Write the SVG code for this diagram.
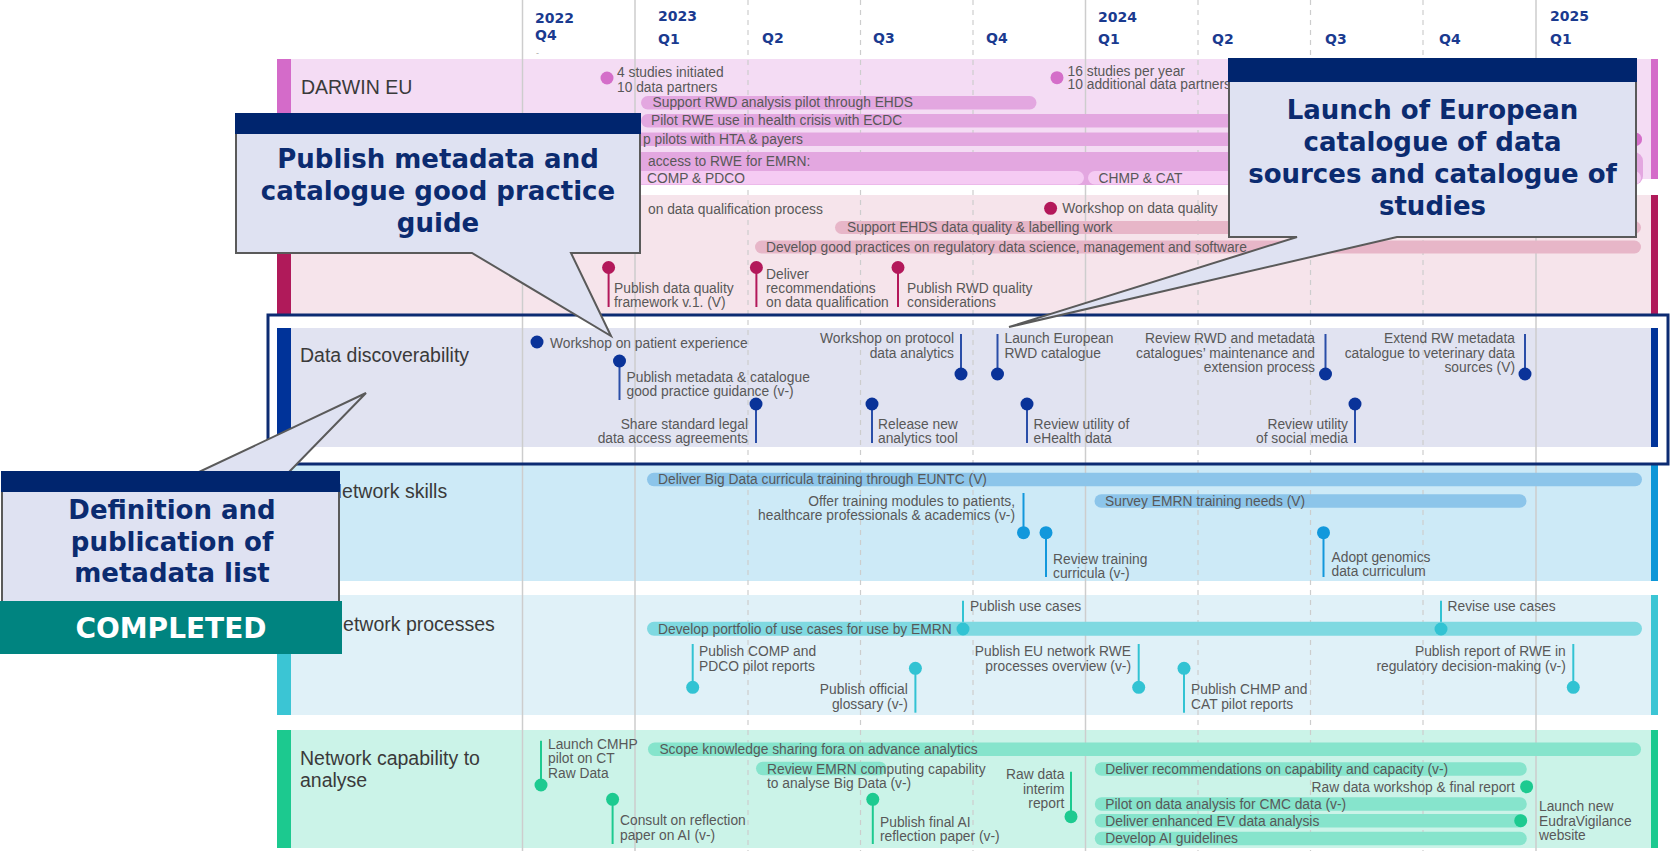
<svg xmlns="http://www.w3.org/2000/svg" width="1672" height="851" viewBox="0 0 1672 851">
<defs>
<style>
.t{font-family:"Liberation Sans",Arial,sans-serif;font-size:13.8px;fill:#585858}
.e{text-anchor:end}
.lb{font-family:"Liberation Sans",Arial,sans-serif;font-size:19.5px;fill:#3a3a3a}
.hd{font-family:"DejaVu Sans",Verdana,sans-serif;font-weight:bold;font-size:14px;fill:#1a3a8f}
.gs{stroke:#cdcdcd;stroke-width:1.5}
.gd{stroke:#cdcdcd;stroke-width:1.2;stroke-dasharray:5 5}
.co{font-family:"DejaVu Sans",Verdana,sans-serif;font-weight:bold;font-size:26px;fill:#0b2b70;text-anchor:middle}
.cb{fill:#dfe2f2;stroke:#5a5a5a;stroke-width:2}
.ch{fill:#00256e}
.dm{fill:#d46ec9}.bm{fill:#e3a7e0}.bm2{fill:#f5cbf3}
.dq{fill:#b3185a}.bq{fill:#e7b6c8}
.dd{fill:#0a3399}
.ds{fill:#1298dc}.bs{fill:#8cc5ea}
.dp{fill:#32c3d3}.bp{fill:#7fd9e1}
.dc{fill:#1dca90}.bc{fill:#86e4cc}
.sq{stroke:#b3185a;stroke-width:2}
.sd{stroke:#2a4ea8;stroke-width:2}
.ss{stroke:#1298dc;stroke-width:2}
.sp{stroke:#32c3d3;stroke-width:2}
.sc{stroke:#1dca90;stroke-width:2}
</style>
</defs>
<rect width="1672" height="851" fill="#ffffff"/>

<g id="bands">
<rect x="277" y="59" width="1381" height="120" fill="#f4dcf4"/>
<rect x="277" y="59" width="14" height="120" fill="#d46bc9"/>
<rect x="1651" y="59" width="7" height="120" fill="#d46bc9"/>
<rect x="277" y="195" width="1381" height="119" fill="#f6e4eb"/>
<rect x="277" y="195" width="14" height="119" fill="#b01a5a"/>
<rect x="1651" y="195" width="7" height="119" fill="#b01a5a"/>
<rect x="277" y="328" width="1381" height="119" fill="#e1e3f1"/>
<rect x="277" y="328" width="14" height="119" fill="#003399"/>
<rect x="1651" y="328" width="7" height="119" fill="#003399"/>
<rect x="277" y="465" width="1381" height="116" fill="#cdeaf7"/>
<rect x="277" y="465" width="14" height="116" fill="#0d96d8"/>
<rect x="1651" y="465" width="7" height="116" fill="#0d96d8"/>
<rect x="277" y="595" width="1381" height="120" fill="#e0f1f8"/>
<rect x="277" y="595" width="14" height="120" fill="#3bc5d4"/>
<rect x="1651" y="595" width="7" height="120" fill="#3bc5d4"/>
<rect x="277" y="730" width="1381" height="118" fill="#cbf3e8"/>
<rect x="277" y="730" width="14" height="118" fill="#1cc98f"/>
<rect x="1651" y="730" width="7" height="118" fill="#1cc98f"/>
</g>

<g id="grid">
<line class="gs" x1="522.5" y1="0" x2="522.5" y2="851"/>
<line class="gs" x1="635" y1="0" x2="635" y2="851"/>
<line class="gd" x1="748" y1="0" x2="748" y2="851"/>
<line class="gd" x1="860.5" y1="0" x2="860.5" y2="851"/>
<line class="gd" x1="973" y1="0" x2="973" y2="851"/>
<line class="gs" x1="1085.5" y1="0" x2="1085.5" y2="851"/>
<line class="gd" x1="1198" y1="0" x2="1198" y2="851"/>
<line class="gd" x1="1310.5" y1="0" x2="1310.5" y2="851"/>
<line class="gd" x1="1423" y1="0" x2="1423" y2="851"/>
<line class="gs" x1="1536" y1="0" x2="1536" y2="851"/>
</g>

<g id="header">
<text class="hd" x="535" y="23">2022</text>
<text class="hd" x="535" y="40">Q4</text>
<text x="536" y="56" font-family="Liberation Sans, sans-serif" font-size="9" fill="#aaaaaa">-</text>
<text class="hd" x="658" y="21">2023</text>
<text class="hd" x="658" y="44">Q1</text>
<text class="hd" x="762" y="43">Q2</text>
<text class="hd" x="873" y="43">Q3</text>
<text class="hd" x="986" y="43">Q4</text>
<text class="hd" x="1098" y="22">2024</text>
<text class="hd" x="1098" y="44">Q1</text>
<text class="hd" x="1212" y="44">Q2</text>
<text class="hd" x="1325" y="44">Q3</text>
<text class="hd" x="1439" y="44">Q4</text>
<text class="hd" x="1550" y="21">2025</text>
<text class="hd" x="1550" y="44">Q1</text>
</g>

<g id="connectors">
<line class="sq" x1="608.6" y1="267.5" x2="608.6" y2="307"/>
<line class="sq" x1="756.4" y1="267.5" x2="756.4" y2="307"/>
<line class="sq" x1="898" y1="267.5" x2="898" y2="307"/>
<line class="sd" x1="619.5" y1="361" x2="619.5" y2="400"/>
<line class="sd" x1="756" y1="404" x2="756" y2="443"/>
<line class="sd" x1="872" y1="404" x2="872" y2="443"/>
<line class="sd" x1="961" y1="334" x2="961" y2="374"/>
<line class="sd" x1="997.5" y1="334" x2="997.5" y2="374"/>
<line class="sd" x1="1027" y1="404" x2="1027" y2="443"/>
<line class="sd" x1="1325.5" y1="334" x2="1325.5" y2="374"/>
<line class="sd" x1="1355" y1="404" x2="1355" y2="443"/>
<line class="sd" x1="1525" y1="334" x2="1525" y2="374"/>
<line class="ss" x1="1023.5" y1="493" x2="1023.5" y2="532.7"/>
<line class="ss" x1="1046" y1="532.7" x2="1046" y2="577"/>
<line class="ss" x1="1323.5" y1="532.7" x2="1323.5" y2="577"/>
<line class="sp" x1="963" y1="600.7" x2="963" y2="629"/>
<line class="sp" x1="1441" y1="600.7" x2="1441" y2="629"/>
<line class="sp" x1="692.7" y1="644" x2="692.7" y2="687.3"/>
<line class="sp" x1="915.4" y1="668.3" x2="915.4" y2="712.7"/>
<line class="sp" x1="1138.7" y1="644" x2="1138.7" y2="687.3"/>
<line class="sp" x1="1184" y1="668.3" x2="1184" y2="712.7"/>
<line class="sp" x1="1573.3" y1="644" x2="1573.3" y2="687.3"/>
<line class="sc" x1="541" y1="740.7" x2="541" y2="785"/>
<line class="sc" x1="612.6" y1="799.3" x2="612.6" y2="844"/>
<line class="sc" x1="872.8" y1="799.3" x2="872.8" y2="844"/>
<line class="sc" x1="1071" y1="771.7" x2="1071" y2="816.7"/>
</g>

<g id="row-darwin">
<text class="lb" x="301" y="94">DARWIN EU</text>
<g id="m-darwin-1"><circle class="dm" cx="607" cy="78" r="6.5"/><text class="t" x="617" y="77.3">4 studies initiated</text><text class="t" x="617" y="91.8">10 data partners</text></g>
<g id="m-darwin-2"><circle class="dm" cx="1057" cy="77.7" r="6.5"/><text class="t" x="1067.6" y="76">16 studies per year</text><text class="t" x="1067.6" y="89">10 additional data partners</text></g>
<g id="b-darwin-1"><rect class="bm" x="641" y="96" width="395.5" height="13.5" rx="6.75"/><text class="t" x="652.5" y="107.3">Support RWD analysis pilot through EHDS</text></g>
<g id="b-darwin-2"><rect class="bm" x="641" y="114" width="960" height="13.5" rx="6.75"/><text class="t" x="651" y="125.3">Pilot RWE use in health crisis with ECDC</text></g>
<g id="b-darwin-3"><rect class="bm" x="560" y="132.5" width="1082" height="13.5" rx="6.75"/><circle class="dm" cx="1635.5" cy="139.3" r="6.5"/><text class="t" x="643" y="144.3">p pilots with HTA &amp; payers</text></g>
<g id="b-darwin-4"><rect class="bm" x="560" y="152" width="1083" height="33" rx="9"/><text class="t" x="648" y="165.8">access to RWE for EMRN:</text>
<rect class="bm2" x="560" y="171" width="524" height="13.5" rx="6.75"/><text class="t" x="647" y="182.8">COMP &amp; PDCO</text>
<rect class="bm2" x="1088" y="171" width="553" height="13.5" rx="6.75"/><text class="t" x="1098.5" y="182.8">CHMP &amp; CAT</text></g>
</g>

<g id="row-quality">
<g id="m-q-0"><text class="t" x="648" y="213.8">on data qualification process</text></g>
<g id="m-q-1"><circle class="dq" cx="1050.6" cy="208.3" r="6.5"/><text class="t" x="1062.3" y="213">Workshop on data quality</text></g>
<g id="b-q-1"><rect class="bq" x="835" y="221" width="806" height="13" rx="6.5"/><text class="t" x="847" y="232.3">Support EHDS data quality &amp; labelling work</text></g>
<g id="b-q-2"><rect class="bq" x="755" y="240.5" width="886" height="13" rx="6.5"/><text class="t" x="766" y="251.5">Develop good practices on regulatory data science, management and software</text></g>
<g id="m-q-2"><circle class="dq" cx="608.6" cy="267.5" r="6.5"/><text class="t" x="614" y="292.8">Publish data quality</text><text class="t" x="614" y="306.5">framework v.1. (V)</text></g>
<g id="m-q-3"><circle class="dq" cx="756.4" cy="267.5" r="6.5"/><text class="t" x="766" y="278.8">Deliver</text><text class="t" x="766" y="292.5">recommendations</text><text class="t" x="766" y="306.5">on data qualification</text></g>
<g id="m-q-4"><circle class="dq" cx="898" cy="267.5" r="6.5"/><text class="t" x="907" y="292.8">Publish RWD quality</text><text class="t" x="907" y="306.5">considerations</text></g>
</g>

<g id="row-discoverability">
<text class="lb" x="300" y="362">Data discoverability</text>
<g id="m-d-1"><circle class="dd" cx="537" cy="342" r="6.5"/><text class="t" x="550" y="347.5">Workshop on patient experience</text></g>
<g id="m-d-2"><circle class="dd" cx="619.5" cy="361" r="6.5"/><text class="t" x="626.5" y="381.5">Publish metadata &amp; catalogue</text><text class="t" x="626.5" y="396">good practice guidance (v-)</text></g>
<g id="m-d-3"><circle class="dd" cx="756" cy="404" r="6.5"/><text class="t e" x="748" y="429">Share standard legal</text><text class="t e" x="748" y="443">data access agreements</text></g>
<g id="m-d-4"><circle class="dd" cx="872" cy="404" r="6.5"/><text class="t" x="878" y="429">Release new</text><text class="t" x="878" y="443">analytics tool</text></g>
<g id="m-d-5"><circle class="dd" cx="961" cy="374" r="6.5"/><text class="t e" x="954" y="343.3">Workshop on protocol</text><text class="t e" x="954" y="357.7">data analytics</text></g>
<g id="m-d-6"><circle class="dd" cx="997.5" cy="374" r="6.5"/><text class="t" x="1004.5" y="343.3">Launch European</text><text class="t" x="1004.5" y="357.7">RWD catalogue</text></g>
<g id="m-d-7"><circle class="dd" cx="1027" cy="404" r="6.5"/><text class="t" x="1033.5" y="429">Review utility of</text><text class="t" x="1033.5" y="443">eHealth data</text></g>
<g id="m-d-8"><circle class="dd" cx="1325.5" cy="374" r="6.5"/><text class="t e" x="1315" y="343.3">Review RWD and metadata</text><text class="t e" x="1315" y="357.7">catalogues’ maintenance and</text><text class="t e" x="1315" y="372.3">extension process</text></g>
<g id="m-d-9"><circle class="dd" cx="1355" cy="404" r="6.5"/><text class="t e" x="1348" y="429">Review utility</text><text class="t e" x="1348" y="443">of social media</text></g>
<g id="m-d-10"><circle class="dd" cx="1525" cy="374" r="6.5"/><text class="t e" x="1515" y="343.3">Extend RW metadata</text><text class="t e" x="1515" y="357.7">catalogue to veterinary data</text><text class="t e" x="1515" y="372.3">sources (V)</text></g>
</g>
<rect id="highlight" x="268" y="315" width="1400" height="149" fill="none" stroke="#0c2b72" stroke-width="3"/>

<g id="row-skills">
<text class="lb" x="328" y="497.5">Network skills</text>
<g id="b-s-1"><rect class="bs" x="647" y="472.7" width="995" height="13.5" rx="6.75"/><text class="t" x="658" y="484.3">Deliver Big Data curricula training through EUNTC (V)</text></g>
<g id="m-s-1"><circle class="ds" cx="1023.5" cy="532.7" r="6.5"/><text class="t e" x="1015" y="506">Offer training modules to patients,</text><text class="t e" x="1015" y="520">healthcare professionals &amp; academics (v-)</text></g>
<g id="m-s-2"><circle class="ds" cx="1046" cy="532.7" r="6.5"/><text class="t" x="1053" y="563.5">Review training</text><text class="t" x="1053" y="578">curricula (v-)</text></g>
<g id="b-s-2"><rect class="bs" x="1094.5" y="494.3" width="432" height="13.5" rx="6.75"/><text class="t" x="1105" y="506">Survey EMRN training needs (V)</text></g>
<g id="m-s-3"><circle class="ds" cx="1323.5" cy="532.7" r="6.5"/><text class="t" x="1331.5" y="561.5">Adopt genomics</text><text class="t" x="1331.5" y="575.5">data curriculum</text></g>
</g>

<g id="row-processes">
<text class="lb" x="329" y="631">Network processes</text>
<g id="b-p-1"><rect class="bp" x="647" y="621.7" width="995" height="14" rx="7"/><text class="t" x="658" y="633.6">Develop portfolio of use cases for use by EMRN</text></g>
<g id="m-p-1"><circle class="dp" cx="963" cy="629" r="6.5"/><text class="t" x="970" y="611">Publish use cases</text></g>
<g id="m-p-2"><circle class="dp" cx="1441" cy="629" r="6.5"/><text class="t" x="1447.5" y="611">Revise use cases</text></g>
<g id="m-p-3"><circle class="dp" cx="692.7" cy="687.3" r="6.5"/><text class="t" x="699" y="656">Publish COMP and</text><text class="t" x="699" y="671">PDCO pilot reports</text></g>
<g id="m-p-4"><circle class="dp" cx="915.4" cy="668.3" r="6.5"/><text class="t e" x="907.8" y="694.3">Publish official</text><text class="t e" x="907.8" y="709">glossary (v-)</text></g>
<g id="m-p-5"><circle class="dp" cx="1138.7" cy="687.3" r="6.5"/><text class="t e" x="1131" y="656">Publish EU network RWE</text><text class="t e" x="1131" y="671">processes overview (v-)</text></g>
<g id="m-p-6"><circle class="dp" cx="1184" cy="668.3" r="6.5"/><text class="t" x="1191" y="694.3">Publish CHMP and</text><text class="t" x="1191" y="709">CAT pilot reports</text></g>
<g id="m-p-7"><circle class="dp" cx="1573.3" cy="687.3" r="6.5"/><text class="t e" x="1565.8" y="656">Publish report of RWE in</text><text class="t e" x="1565.8" y="671">regulatory decision-making (v-)</text></g>
</g>

<g id="row-capability">
<text class="lb" x="300" y="765">Network capability to</text>
<text class="lb" x="300" y="787">analyse</text>
<g id="m-c-1"><circle class="dc" cx="541" cy="785" r="6.5"/><text class="t" x="548" y="749">Launch CMHP</text><text class="t" x="548" y="763.3">pilot on CT</text><text class="t" x="548" y="777.7">Raw Data</text></g>
<g id="m-c-2"><circle class="dc" cx="612.6" cy="799.3" r="6.5"/><text class="t" x="620" y="825">Consult on reflection</text><text class="t" x="620" y="840">paper on AI (v-)</text></g>
<g id="b-c-1"><rect class="bc" x="648" y="742.5" width="993" height="13.5" rx="6.75"/><text class="t" x="659.4" y="753.5">Scope knowledge sharing fora on advance analytics</text></g>
<g id="b-c-2"><rect class="bc" x="756" y="761.7" width="130.6" height="13.5" rx="6.75"/><text class="t" x="767" y="774.3">Review EMRN computing capability</text><text class="t" x="767" y="788.3">to analyse Big Data (v-)</text></g>
<g id="m-c-3"><circle class="dc" cx="872.8" cy="799.3" r="6.5"/><text class="t" x="880" y="826.7">Publish final AI</text><text class="t" x="880" y="841">reflection paper (v-)</text></g>
<g id="m-c-4"><circle class="dc" cx="1071" cy="816.7" r="6.5"/><text class="t e" x="1064.4" y="779">Raw data</text><text class="t e" x="1064.4" y="794">interim</text><text class="t e" x="1064.4" y="808.3">report</text></g>
<g id="b-c-3"><rect class="bc" x="1094.8" y="762.3" width="432" height="13.5" rx="6.75"/><text class="t" x="1105.3" y="774">Deliver recommendations on capability and capacity (v-)</text></g>
<g id="m-c-5"><circle class="dc" cx="1526.6" cy="786.7" r="6.5"/><text class="t e" x="1514.8" y="791.7">Raw data workshop &amp; final report</text></g>
<g id="b-c-4"><rect class="bc" x="1094.8" y="797.3" width="432" height="13.5" rx="6.75"/><text class="t" x="1105.3" y="808.7">Pilot on data analysis for CMC data (v-)</text></g>
<g id="b-c-5"><rect class="bc" x="1094.8" y="814" width="432" height="13.5" rx="6.75"/><circle class="dc" cx="1520.7" cy="820.7" r="6.5"/><text class="t" x="1105.3" y="825.5">Deliver enhanced EV data analysis</text></g>
<g id="b-c-6"><rect class="bc" x="1094.8" y="831.7" width="432" height="13.5" rx="6.75"/><text class="t" x="1105.3" y="843">Develop AI guidelines</text></g>
<g id="m-c-6"><text class="t" x="1539" y="811">Launch new</text><text class="t" x="1539" y="825.5">EudraVigilance</text><text class="t" x="1539" y="840">website</text></g>
</g>

<g id="callout-metadata-guide">
<path class="cb" d="M236,114 H640 V253 H571 L611,336 L472,253 H236 Z"/>
<rect class="ch" x="235" y="113" width="406" height="21"/>
<text class="co" x="438" y="168">Publish metadata and</text>
<text class="co" x="438" y="200">catalogue good practice</text>
<text class="co" x="438" y="232">guide</text>
</g>

<g id="callout-catalogue">
<path class="cb" d="M1229,59 H1636 V237 H1397 L1009,327 L1297,237 H1229 Z"/>
<rect class="ch" x="1228" y="58" width="409" height="24"/>
<text class="co" x="1432.5" y="119">Launch of European</text>
<text class="co" x="1432.5" y="151">catalogue of data</text>
<text class="co" x="1432.5" y="183">sources and catalogue of</text>
<text class="co" x="1432.5" y="215">studies</text>
</g>

<g id="callout-metadata-list">
<path class="cb" d="M2,472 H199 L366,393 L289,472 H339 V602 H2 Z"/>
<rect class="ch" x="1" y="471" width="339" height="21"/>
<text class="co" x="172" y="519">Definition and</text>
<text class="co" x="172" y="551">publication of</text>
<text class="co" x="172" y="582">metadata list</text>
<rect x="0" y="601" width="342" height="53" fill="#008480"/>
<text class="co" x="171" y="638" style="fill:#ffffff;font-size:28px">COMPLETED</text>
</g>
</svg>
